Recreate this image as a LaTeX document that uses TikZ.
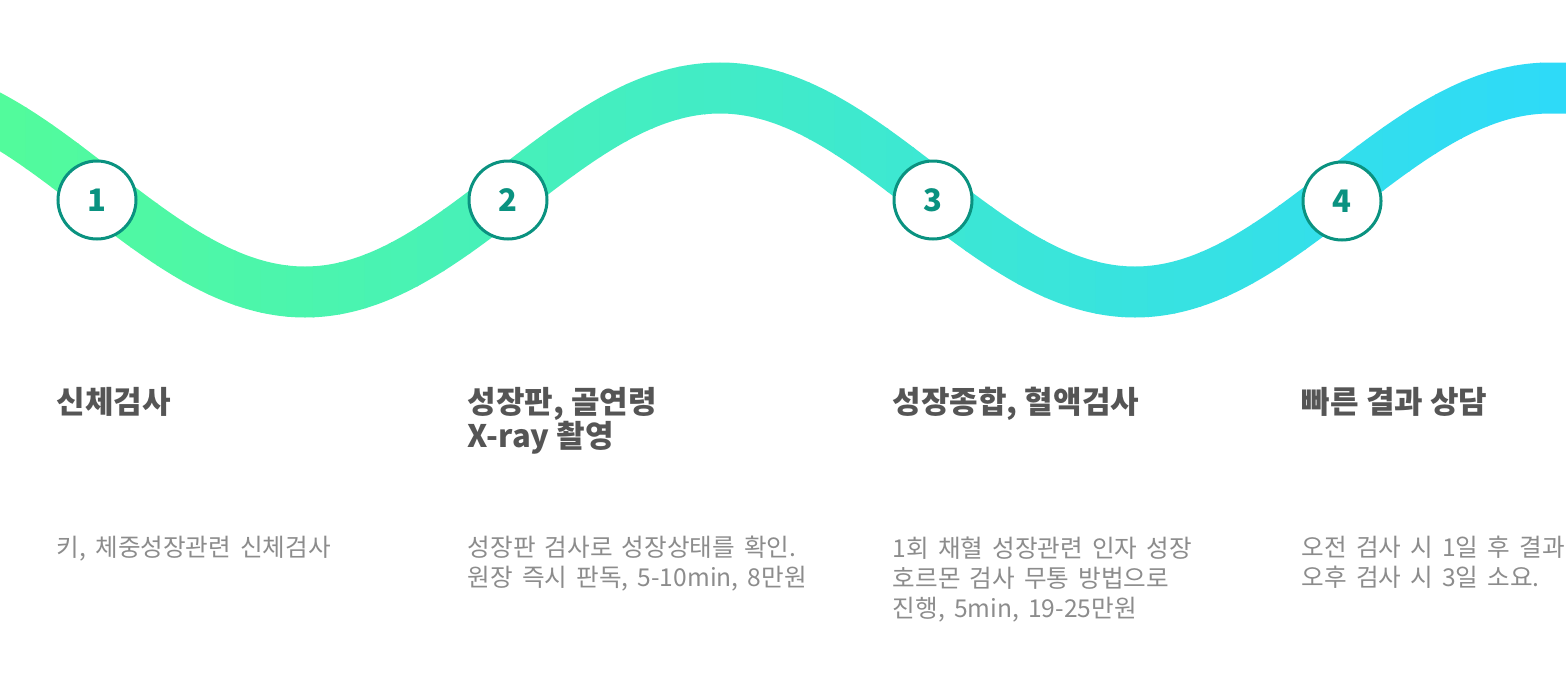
\documentclass[tikz,border=0pt]{standalone}
\usepackage{fontspec}
\setmainfont{Noto Sans CJK KR}
\newfontfamily\descfont[WordSpace=1.65]{Noto Sans CJK KR}
\usepackage{tikz}
\usetikzlibrary{positioning,calc}
\definecolor{waveL}{RGB}{82,251,156}
\definecolor{waveR}{RGB}{46,218,248}
\definecolor{teal}{RGB}{10,146,128}
\definecolor{headgray}{RGB}{85,85,85}
\definecolor{descgray}{RGB}{140,140,140}
\tikzset{WAVE/.style={line width=25.5pt, line cap=butt}}
\tikzset{STEP/.style={circle, minimum size=39pt, inner sep=0pt, draw=teal, line width=1.5pt, fill=white, text=teal, font=\fontsize{15.5}{18}\selectfont\bfseries}}
\tikzset{HEAD/.style={anchor=north west, inner sep=0pt, align=left, text=headgray, font=\fontsize{15.5}{17}\selectfont\bfseries}}
\tikzset{DESC/.style={anchor=north west, inner sep=0pt, align=left, text=descgray, font=\descfont\fontsize{12.3}{15}\selectfont}}

\begin{document}
\begin{tikzpicture}[x=0.5pt, y=-0.5pt]
    \useasboundingbox (0,0) rectangle (1566,685);

    % wave, coloured strip by strip
    \foreach \i in {0,...,59} {
        \pgfmathsetmacro{\p}{100*(1-\i/59)}
        \colorlet{wavecol}{waveL!\p!waveR}
        \begin{scope}
            \clip (\i*26.1-0.5,0) rectangle (\i*26.1+27,685);
            \draw[WAVE, wavecol] (-110,88) cos (97,190) sin (305,292) cos (512,190) sin (720,88)
                cos (927,190) sin (1135,292) cos (1342,190) sin (1550,88) -- (1600,88);
        \end{scope}
    }

    \node[STEP] (n_step1) at (97,200) {1};
    \node[STEP] (n_step2) at (508,200) {2};
    \node[STEP] (n_step3) at (933,200) {3};
    \node[STEP] (n_step4) at (1342,201) {4};

    \node[HEAD] (n_head1) at ($(n_step1.west)+(0,187)$) {신체검사};
    \node[HEAD] (n_head2) at ($(n_step2.west)+(0,187)$) {성장판, 골연령\\X-ray 촬영};
    \node[HEAD] (n_head3) at ($(n_step3.west)+(0,187)$) {성장종합, 혈액검사};
    \node[HEAD] (n_head4) at ($(n_step4.west)+(0,186)$) {빠른 결과 상담};

    \node[DESC] (n_desc1) at ($(n_head1.north west)+(0,149)$) {키, 체중성장관련 신체검사};
    \node[DESC] (n_desc2) at ($(n_head2.north west)+(0,149)$) {성장판 검사로 성장상태를 확인.\\원장 즉시 판독, 5-10min, 8만원};
    \node[DESC] (n_desc3) at ($(n_head3.north west)+(0,149)$) {1회 채혈 성장관련 인자 성장\\호르몬 검사 무통 방법으로\\진행, 5min, 19-25만원};
    \node[DESC] (n_desc4) at ($(n_head4.north west)+(0,149)$) {오전 검사 시 1일 후 결과\\오후 검사 시 3일 소요.};

\end{tikzpicture}
\end{document}
